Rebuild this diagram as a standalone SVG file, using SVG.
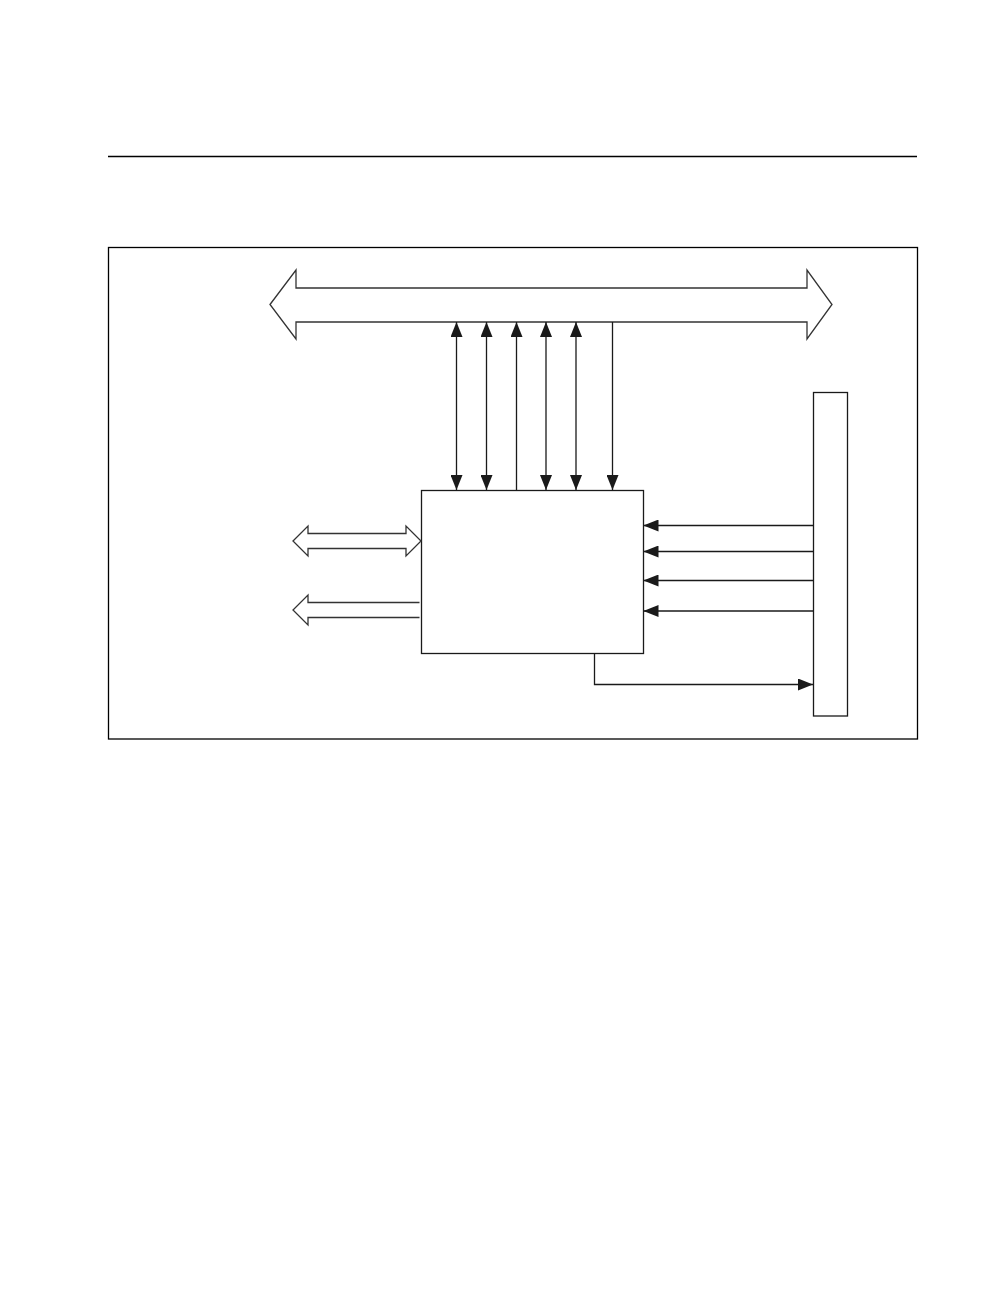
<svg xmlns="http://www.w3.org/2000/svg" width="1008" height="1296" viewBox="0 0 1008 1296">
<style>
.ln{stroke:#1a1a1a;stroke-width:1.3;fill:none}
.bx{stroke:#1a1a1a;stroke-width:1.3;fill:#fff}
.fat{stroke:#333;stroke-width:1.3;fill:#fff}
</style>
<defs>
<marker id="ah" viewBox="0 0 15 12" refX="15" refY="6" markerWidth="15" markerHeight="12" markerUnits="userSpaceOnUse" orient="auto-start-reverse">
<path d="M0,0 L15,6 L0,12 Z" fill="#1a1a1a"/>
</marker>
</defs>
<rect width="1008" height="1296" fill="#fff"/>
<line x1="108" y1="156.5" x2="917" y2="156.5" stroke="#000" stroke-width="1.3"/>
<rect id="frame" x="108.5" y="247.5" width="809" height="491.5" fill="none" stroke="#000" stroke-width="1.3"/>
<g id="bus">
<path class="fat" d="M270,304.5 L296,270 L296,288 L807,288 L807,270 L832,304.5 L807,339 L807,322 L296,322 L296,339 Z"/>
</g>
<g id="controller">
<rect class="bx" x="421.5" y="490.5" width="222" height="163"/>
</g>
<g id="rightblock">
<rect class="bx" x="813.5" y="392.5" width="34" height="323.5"/>
</g>
<g id="leftport1">
<path class="fat" d="M293,541 L308,526 L308,533.5 L406,533.5 L406,526 L421,541 L406,556 L406,548.5 L308,548.5 L308,556 Z"/>
</g>
<g id="leftport2">
<path class="fat" d="M419.5,602.5 L308,602.5 L308,595 L293,610 L308,625 L308,617.5 L419.5,617.5"/>
</g>
<g id="connectors">
<line class="ln" x1="456.5" y1="322" x2="456.5" y2="490" marker-start="url(#ah)" marker-end="url(#ah)"/>
<line class="ln" x1="486.5" y1="322" x2="486.5" y2="490" marker-start="url(#ah)" marker-end="url(#ah)"/>
<line class="ln" x1="516.5" y1="322" x2="516.5" y2="490" marker-start="url(#ah)"/>
<line class="ln" x1="546" y1="322" x2="546" y2="490" marker-start="url(#ah)" marker-end="url(#ah)"/>
<line class="ln" x1="576" y1="322" x2="576" y2="490" marker-start="url(#ah)" marker-end="url(#ah)"/>
<line class="ln" x1="612.5" y1="322" x2="612.5" y2="490" marker-end="url(#ah)"/>
<line class="ln" x1="813" y1="525.5" x2="643.5" y2="525.5" marker-end="url(#ah)"/>
<line class="ln" x1="813" y1="551.5" x2="643.5" y2="551.5" marker-end="url(#ah)"/>
<line class="ln" x1="813" y1="580.5" x2="643.5" y2="580.5" marker-end="url(#ah)"/>
<line class="ln" x1="813" y1="611" x2="643.5" y2="611" marker-end="url(#ah)"/>
<polyline class="ln" points="594.5,653.5 594.5,684.5 813,684.5" marker-end="url(#ah)"/>
</g>
</svg>
